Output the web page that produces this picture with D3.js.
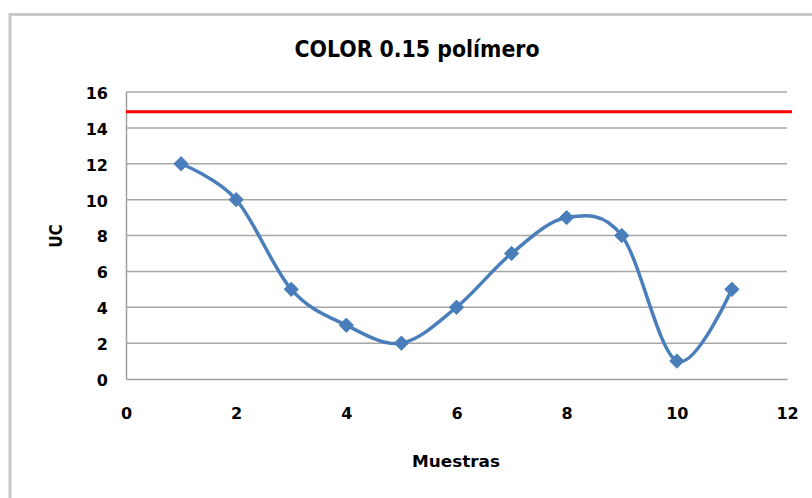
<!DOCTYPE html>
<html><head><meta charset="utf-8">
<script src="https://cdn.jsdelivr.net/npm/d3@7"></script>
<style>body{margin:0;background:#fff;} svg{display:block;}</style>
</head><body>
<script>
const muestras = [1,2,3,4,5,6,7,8,9,10,11];
const ucValues = [12,10,5,3,2,4,7,9,8,1,5];
const limitValue = 14.9;
const xTicks = [0,2,4,6,8,10,12];
const yTicks = [0,2,4,6,8,10,12,14,16];
const titleText = "COLOR 0.15 polímero";
const xLabel = "Muestras";
const yLabel = "UC";

const W = 812, H = 498;
const svg = d3.select("body").append("svg").attr("width", W).attr("height", H);
const font = "'DejaVu Sans Condensed','DejaVu Sans',sans-serif";
const tickFont = "'DejaVu Sans',sans-serif";

// outer chart border
svg.append("rect").attr("x", 10).attr("y", 14.5).attr("width", 820).attr("height", 500)
  .attr("fill", "#fff").attr("stroke", "#c8c8c8").attr("stroke-width", 3);

const x = d3.scaleLinear().domain([0, 12]).range([126, 787]);
const y = d3.scaleLinear().domain([0, 16]).range([379, 92]);

// gridlines
svg.append("g").selectAll("line").data(yTicks.filter(d => d > 0)).join("line")
  .attr("x1", x(0)).attr("x2", x(12)).attr("y1", d => y(d)).attr("y2", d => y(d))
  .attr("stroke", "#a6a6a6").attr("stroke-width", 1.5);

// axes
const yAxis = svg.append("g").attr("transform", `translate(${x(0)},0)`)
  .call(d3.axisLeft(y).tickValues(yTicks).tickSize(0).tickPadding(18));
const xAxis = svg.append("g").attr("transform", `translate(0,${y(0)})`)
  .call(d3.axisBottom(x).tickValues(xTicks).tickSize(0).tickPadding(29));
[yAxis, xAxis].forEach(g => {
  g.select(".domain").attr("stroke", "#a0a0a0").attr("stroke-width", 1.5);
  g.selectAll("text").attr("font-family", tickFont).attr("font-weight", "bold")
    .attr("font-size", 16).attr("fill", "#000");
});
yAxis.selectAll("text").attr("dy", "0.4em");

// red limit line
svg.append("line").attr("x1", x(0)).attr("x2", x(12) + 5)
  .attr("y1", y(limitValue)).attr("y2", y(limitValue))
  .attr("stroke", "#ff0000").attr("stroke-width", 3);

// series
const pts = muestras.map((m, i) => [m, ucValues[i]]);
const line = d3.line().x(d => x(d[0])).y(d => y(d[1])).curve(d3.curveCardinal.tension(0));
svg.append("path").datum(pts).attr("d", line).attr("fill", "none")
  .attr("stroke", "#4a7ebb").attr("stroke-width", 3.5).attr("stroke-linejoin", "round");

svg.append("g").selectAll("path").data(pts).join("path")
  .attr("transform", d => `translate(${x(d[0])},${y(d[1])})`)
  .attr("d", d3.symbol(d3.symbolDiamond2, 130)())
  .attr("fill", "#4a7ebb").attr("stroke", "#4a7ebb").attr("stroke-width", 1);

// title & labels
svg.append("text").attr("x", 417).attr("y", 57).attr("text-anchor", "middle")
  .attr("font-family", font).attr("font-weight", "bold").attr("font-size", 23)
  .attr("textLength", 245).attr("lengthAdjust", "spacingAndGlyphs").text(titleText);
svg.append("text").attr("x", 456).attr("y", 467).attr("text-anchor", "middle")
  .attr("font-family", font).attr("font-weight", "bold").attr("font-size", 16)
  .attr("textLength", 88).attr("lengthAdjust", "spacingAndGlyphs").text(xLabel);
svg.append("text").attr("transform", "translate(62,236) rotate(-90)").attr("text-anchor", "middle")
  .attr("font-family", font).attr("font-weight", "bold").attr("font-size", 17).text(yLabel);
</script>
</body></html>
